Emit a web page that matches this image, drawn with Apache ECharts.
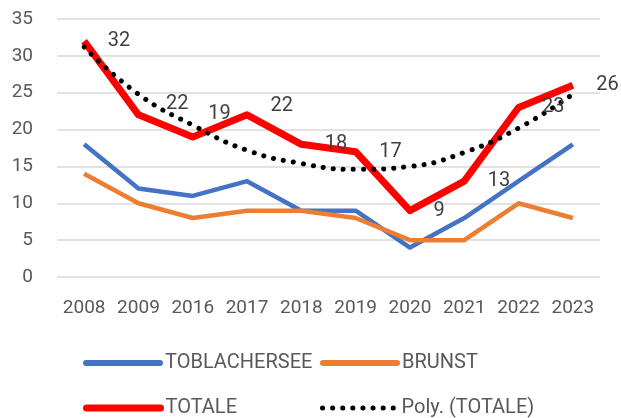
<!DOCTYPE html>
<html>
<head>
<meta charset="utf-8">
<script src="https://cdn.jsdelivr.net/npm/echarts@6/dist/echarts.min.js"></script>
<style>
  html, body { margin: 0; padding: 0; background: #fff; }
  #chart { width: 621px; height: 418px; }
</style>
</head>
<body>
<div id="chart"></div>
<script>
// dati
var anni = ['2008', '2009', '2016', '2017', '2018', '2019', '2020', '2021', '2022', '2023'];
var toblachersee = [18, 12, 11, 13, 9, 9, 4, 8, 13, 18];
var brunst = [14, 10, 8, 9, 9, 8, 5, 5, 10, 8];
var totale = [32, 22, 19, 22, 18, 17, 9, 13, 23, 26];
// tendenza polinomiale
var polyTotale = [31.2, 24.8, 20.6, 17.2, 15.4, 14.6, 15.0, 16.9, 20.2, 24.8];

(function () {
  const chart = echarts.init(document.getElementById('chart'));
  const font = "Roboto, 'Liberation Sans', sans-serif";

  // spostamento etichette (solo stile)
  const shift = { 1: [4, -11], 2: [-8, -23], 3: [0, -9] };
  const totaleData = totale.map(function (v, i) {
    const o = shift[i];
    return o ? { value: v, label: { offset: o } } : v;
  });

  function legenda(name, left, top, lw, dotted) {
    return {
      data: [name],
      left: left,
      top: top,
      itemWidth: 74,
      itemHeight: 14,
      itemGap: 5,
      itemStyle: { opacity: 0 },
      lineStyle: dotted
        ? { width: 5, type: [0.1, 10], cap: 'round' }
        : { width: lw, cap: 'round' },
      textStyle: { fontFamily: font, fontSize: 20, color: '#595959' }
    };
  }

  let option = {
    animation: false,
    textStyle: { fontFamily: font },
    legend: [
      legenda('TOBLACHERSEE', 78, 348, 6),
      legenda('BRUNST', 315, 348, 6),
      legenda('TOTALE', 78, 393, 7),
      legenda('Poly. (TOTALE)', 315, 393, 5, true)
    ],
    grid: {
      left: 57,
      right: 21,
      top: 19,
      bottom: 141
    },
    xAxis: {
      type: 'category',
      data: anni,
      axisLine: { show: false },
      axisTick: { show: false },
      axisLabel: {
        interval: 0,
        color: '#595959',
        fontSize: 19,
        fontFamily: font,
        margin: 22
      }
    },
    yAxis: {
      type: 'value',
      min: 0,
      max: 35,
      interval: 5,
      axisLabel: {
        color: '#595959',
        fontSize: 19,
        fontFamily: font,
        margin: 24
      },
      splitLine: {
        lineStyle: { color: '#d9d9d9', width: 1.5 }
      }
    },
    series: [
      {
        name: 'TOBLACHERSEE',
        type: 'line',
        data: toblachersee,
        symbol: 'none',
        color: '#4472C4',
        lineStyle: { width: 4.5, color: '#4472C4', join: 'round' }
      },
      {
        name: 'BRUNST',
        type: 'line',
        data: brunst,
        symbol: 'none',
        color: '#ED7D31',
        lineStyle: { width: 4.5, color: '#ED7D31', join: 'round' }
      },
      {
        name: 'TOTALE',
        type: 'line',
        data: totaleData,
        symbol: 'circle',
        symbolSize: 1,
        showSymbol: true,
        itemStyle: { color: 'rgba(255,0,0,0)' },
        color: '#FF0000',
        lineStyle: { width: 7, color: '#FF0000', join: 'round' },
        label: {
          show: true,
          position: 'right',
          distance: 23,
          color: '#404040',
          fontSize: 20,
          fontFamily: font
        }
      },
      {
        name: 'Poly. (TOTALE)',
        type: 'line',
        data: polyTotale,
        smooth: true,
        symbol: 'none',
        color: '#000',
        z: 3,
        lineStyle: {
          width: 5,
          color: '#000',
          type: [0.1, 10],
          cap: 'round'
        }
      }
    ]
  };

  chart.setOption(option);
  window.addEventListener('resize', function () {
    chart.resize();
  });
})();
</script>
</body>
</html>
